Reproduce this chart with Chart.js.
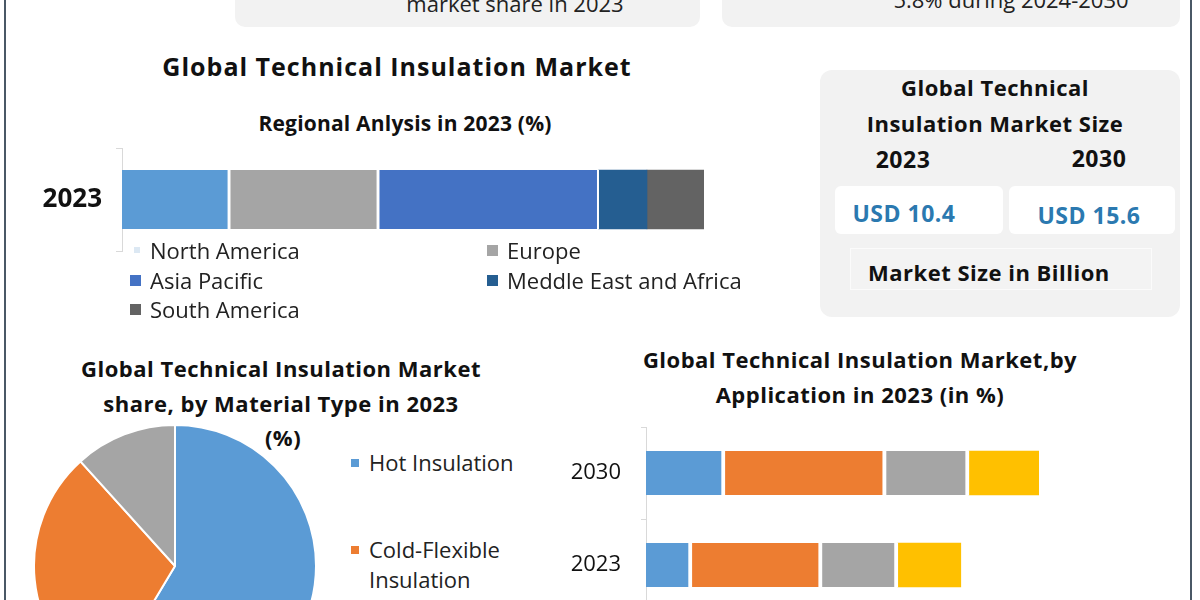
<!DOCTYPE html>
<html lang="en">
<head>
    <meta charset="UTF-8">
    <title>Global Technical Insulation Market</title>
    <script src="https://cdn.jsdelivr.net/npm/chart.js"></script>
    <style>
        body { margin: 0; background: #fff; font-family: "Open Sans", sans-serif; color: #111; }
        /* whole infographic, clipped to the window like the original crop */
        .page { position: relative; width: 1200px; height: 600px; overflow: hidden; background: #fff; }
        .edge { position: absolute; top: 0; width: 2px; height: 600px; background: #4a5866; }
        .title { position: absolute; font-weight: bold; text-align: center; line-height: 30px; white-space: nowrap; font-size: 22px; letter-spacing: 0.5px; }
        .top-box { position: absolute; top: -20px; height: 47px; background: #f2f2f2; border-radius: 10px; }
        .top-text { position: absolute; font-size: 22px; line-height: 30px; color: #222; white-space: nowrap; }

        /* right summary panel */
        .panel { position: absolute; left: 820px; top: 70px; width: 360px; height: 247px; background: #f2f2f2; border-radius: 12px; }
        .white-box { position: absolute; top: 186px; height: 48px; background: #fff; border-radius: 6px; }
        .usd { position: absolute; font-size: 23px; font-weight: bold; color: #2b79b0; line-height: 30px; text-align: center; letter-spacing: 0.5px; }
        .size-box { position: absolute; left: 850px; top: 248px; width: 300px; height: 40px; background: #f3f3f3; border: 1px solid #fbfbfb; }

        /* legends */
        .legend-item { position: absolute; font-size: 22px; line-height: 30px; white-space: nowrap; color: #222; }
        .legend-item i { position: absolute; width: 11px; height: 11px; top: 10px; }
        .pie-legend { position: absolute; left: 351px; top: 447px; width: 170px; }
        .pie-legend div { position: relative; padding-left: 18px; font-size: 22px; line-height: 30px; color: #222; width: 150px; margin-bottom: 57px; }
        .pie-legend i { position: absolute; left: 0; top: 12px; width: 8px; height: 8px; }
        canvas { position: absolute; }
    </style>
</head>
<body>
<div class="page">
    <div class="edge" style="left:4px"></div>
    <div class="edge" style="left:1190px"></div>

    <!-- boxes cut off at the top of the picture -->
    <div class="top-box" style="left:235px; width:465px"></div>
    <div class="top-box" style="left:722px; width:458px"></div>
    <div class="top-text" style="left:235px; width:560px; top:-12px; text-align:center">market share in 2023</div>
    <div class="top-text" style="left:722px; width:578px; top:-16px; text-align:center">5.8% during 2024-2030</div>

    <div class="title" style="left:97px; width:600px; top:51px; font-size:25px; letter-spacing:1px">Global Technical Insulation Market</div>
    <div class="title" style="left:105px; width:600px; top:108px; font-size:21px; letter-spacing:0.2px">Regional Anlysis in 2023 (%)</div>

    <canvas id="regionChart" width="720" height="130" style="left:0; top:140px; width:720px; height:130px"></canvas>
    <div id="regionLegend"></div>

    <!-- market size panel -->
    <div class="panel"></div>
    <div class="title" style="left:820px; width:350px; top:72px">Global Technical</div>
    <div class="title" style="left:820px; width:350px; top:108px">Insulation Market Size</div>
    <div class="title" style="left:853px; width:100px; top:144px; font-size:23px">2023</div>
    <div class="title" style="left:1049px; width:100px; top:143px; font-size:23px">2030</div>
    <div class="white-box" style="left:835px; width:168px"></div>
    <div class="white-box" style="left:1009px; width:166px"></div>
    <div class="usd" style="left:835px; width:138px; top:198px">USD 10.4</div>
    <div class="usd" style="left:1009px; width:160px; top:200px">USD 15.6</div>
    <div class="size-box"></div>
    <div class="title" style="left:868px; top:257px; text-align:left">Market Size in Billion</div>

    <!-- material type pie -->
    <div class="title" style="left:0; width:562px; top:353px">Global Technical Insulation Market</div>
    <div class="title" style="left:0; width:562px; top:388px">share, by Material Type in 2023</div>
    <div class="title" style="left:0; width:566px; top:422px">(%)</div>
    <canvas id="materialChart" width="284" height="284" style="left:33px; top:424px; width:284px; height:284px"></canvas>
    <div class="pie-legend" id="materialLegend"></div>

    <!-- application bars -->
    <div class="title" style="left:560px; width:600px; top:344px">Global Technical Insulation Market,by</div>
    <div class="title" style="left:560px; width:600px; top:379px">Application in 2023 (in %)</div>
    <canvas id="applicationChart" width="625" height="200" style="left:560px; top:420px; width:625px; height:200px"></canvas>
</div>

<script>
    // Regional split, 2023 (%)
    const regionYears = ["2023"];
    const regionNames = ["North America", "Europe", "Asia Pacific", "Meddle East and Africa", "South America"];
    const regionShares = [18.6, 25.6, 37.7, 8.3, 9.8];
    const regionColors = ["#5b9bd5", "#a5a5a5", "#4472c4", "#255e91", "#636363"];

    // Material type split, 2023 (%)
    const materialNames = ["Hot Insulation", "Cold-Flexible Insulation", "Cold-Rigid Insulation"];
    const materialShares = [58.6, 29.7, 11.7];
    const materialColors = ["#5b9bd5", "#ed7d31", "#a5a5a5"];

    // Application split (%), one value per year
    const applicationYears = ["2030", "2023"];
    const applicationNames = ["Application A", "Application B", "Application C", "Application D"];
    const applicationShares = [
        [20.1, 11.7],
        [41.0, 33.1],
        [21.1, 19.3],
        [17.8, 16.0]
    ];
    const applicationColors = ["#5b9bd5", "#ed7d31", "#a5a5a5", "#ffc000"];

    const axisGray = "#d9d9d9";

    // Horizontal stacked bar with only a category axis showing
    function stackedBar(ctx, labels, datasets, yAxisWidth, tickFont, tickPadding, tickLength, padding) {
        return new Chart(ctx, {
            type: "bar",
            data: { labels: labels, datasets: datasets },
            options: {
                indexAxis: "y",
                responsive: false,
                animation: false,
                events: [],
                layout: { padding: padding },
                plugins: { legend: { display: false }, tooltip: { enabled: false } },
                scales: {
                    x: { stacked: true, min: 0, max: 100, display: false },
                    y: {
                        stacked: true,
                        border: { color: axisGray, width: 1 },
                        grid: { drawOnChartArea: false, color: axisGray, tickLength: tickLength },
                        ticks: { color: "#111", font: tickFont, padding: tickPadding },
                        afterFit: function (scale) {
                            // fixed axis width, and no extra room for the label height
                            scale.width = yAxisWidth;
                            scale.paddingTop = 0;
                            scale.paddingBottom = 0;
                        }
                    }
                }
            }
        });
    }

    // gaps between segments (white right border)
    const regionGaps = [3, 3, 2, 0, 0];
    stackedBar(
        document.getElementById("regionChart"),
        regionYears,
        regionNames.map(function (name, i) {
            return {
                label: name,
                data: [regionShares[i]],
                backgroundColor: regionColors[i],
                borderColor: "#fff",
                borderWidth: { right: regionGaps[i] },
                barThickness: 59
            };
        }),
        122, { family: "Open Sans", size: 26, weight: "bold" }, 14, 6,
        { top: 8, right: 16, bottom: 19, left: 0 }
    );

    const appGaps = [4, 4, 4, 0];
    stackedBar(
        document.getElementById("applicationChart"),
        applicationYears,
        applicationNames.map(function (name, i) {
            return {
                label: name,
                data: applicationShares[i],
                backgroundColor: applicationColors[i],
                borderColor: "#fff",
                borderWidth: { right: appGaps[i] },
                barThickness: 44
            };
        }),
        86, { family: "Open Sans", size: 22 }, 20, 5,
        { top: 7, right: 146, bottom: 9, left: 0 }
    );

    // Pie for material type
    new Chart(document.getElementById("materialChart"), {
        type: "pie",
        data: {
            labels: materialNames,
            datasets: [{ data: materialShares, backgroundColor: materialColors, borderColor: "#fff", borderWidth: 2 }]
        },
        options: {
            responsive: false,
            animation: false,
            events: [],
            plugins: { legend: { display: false }, tooltip: { enabled: false } }
        }
    });

    // Regional legend: two columns, filled row by row
    const regionLegend = document.getElementById("regionLegend");
    regionNames.forEach(function (name, i) {
        const item = document.createElement("div");
        item.className = "legend-item";
        item.style.left = (i % 2 === 0 ? 150 : 507) + "px";
        item.style.top = (235 + Math.floor(i / 2) * 29.5) + "px";
        // the first marker is drawn faded in the original
        const marker = i === 0
            ? '<i style="left:-16px; top:12px; width:6px; height:6px; background:#dce8f3"></i>'
            : '<i style="left:-20px; background:' + regionColors[i] + '"></i>';
        item.innerHTML = marker + name;
        regionLegend.appendChild(item);
    });

    // Material legend
    const materialLegend = document.getElementById("materialLegend");
    materialNames.forEach(function (name, i) {
        const item = document.createElement("div");
        item.innerHTML = '<i style="background:' + materialColors[i] + '"></i>' + name;
        materialLegend.appendChild(item);
    });
</script>
</body>
</html>
